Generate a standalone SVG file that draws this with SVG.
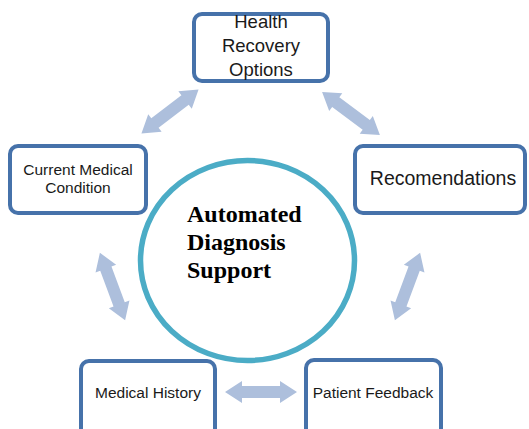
<svg xmlns="http://www.w3.org/2000/svg" xmlns:xlink="http://www.w3.org/1999/xlink" width="529" height="429" viewBox="0 0 529 429">
<style>
.box{fill:#ffffff;stroke:#4672aa;stroke-width:4}
.lbl{font-family:"Liberation Sans",Arial,sans-serif;fill:#1a1a1a;text-anchor:middle}
.hub{font-family:"Liberation Serif","Times New Roman",serif;font-weight:bold;font-size:24px;fill:#000}
.arr{fill:#adbfdc}
</style>
<defs>
<polygon id="dbl" class="arr" points="-36,0 -19,-11 -19,-6 19,-6 19,-11 36,0 19,11 19,6 -19,6 -19,11"/>
</defs>
<rect width="529" height="429" fill="#ffffff"/>
<g id="connectors">
<use xlink:href="#dbl" transform="translate(170,111.5) rotate(-37.5)"/>
<use xlink:href="#dbl" transform="translate(351,113.5) rotate(36.6)"/>
<use xlink:href="#dbl" transform="translate(112.5,286.5) rotate(69.5)"/>
<use xlink:href="#dbl" transform="translate(407.5,286.5) rotate(110.5)"/>
<use xlink:href="#dbl" transform="translate(261,392)"/>
</g>
<g id="hub">
<ellipse cx="247.5" cy="260.5" rx="107" ry="100" fill="#ffffff" stroke="#4bacc6" stroke-width="5.5"/>
<text class="hub" x="187" y="222">Automated</text>
<text class="hub" x="187" y="250">Diagnosis</text>
<text class="hub" x="187" y="278">Support</text>
</g>
<g id="health-recovery">
<rect class="box" x="194" y="14" width="134" height="67" rx="8"/>
<text class="lbl" x="261" y="28" font-size="18.5">Health</text>
<text class="lbl" x="261" y="52" font-size="18.5">Recovery</text>
<text class="lbl" x="261" y="76" font-size="18.5">Options</text>
</g>
<g id="current-condition">
<rect class="box" x="10" y="146" width="136" height="67" rx="8"/>
<text class="lbl" x="78" y="175" font-size="15.5">Current Medical</text>
<text class="lbl" x="78" y="193" font-size="15.5">Condition</text>
</g>
<g id="recomendations">
<rect class="box" x="355" y="146" width="170" height="67" rx="8"/>
<text class="lbl" x="443" y="185" font-size="19.5">Recomendations</text>
</g>
<g id="medical-history">
<rect class="box" x="81" y="361" width="134" height="80" rx="8"/>
<text class="lbl" x="148" y="398" font-size="15.5">Medical History</text>
</g>
<g id="patient-feedback">
<rect class="box" x="306" y="360" width="135" height="80" rx="8"/>
<text class="lbl" x="373" y="398" font-size="15.5">Patient Feedback</text>
</g>
</svg>
